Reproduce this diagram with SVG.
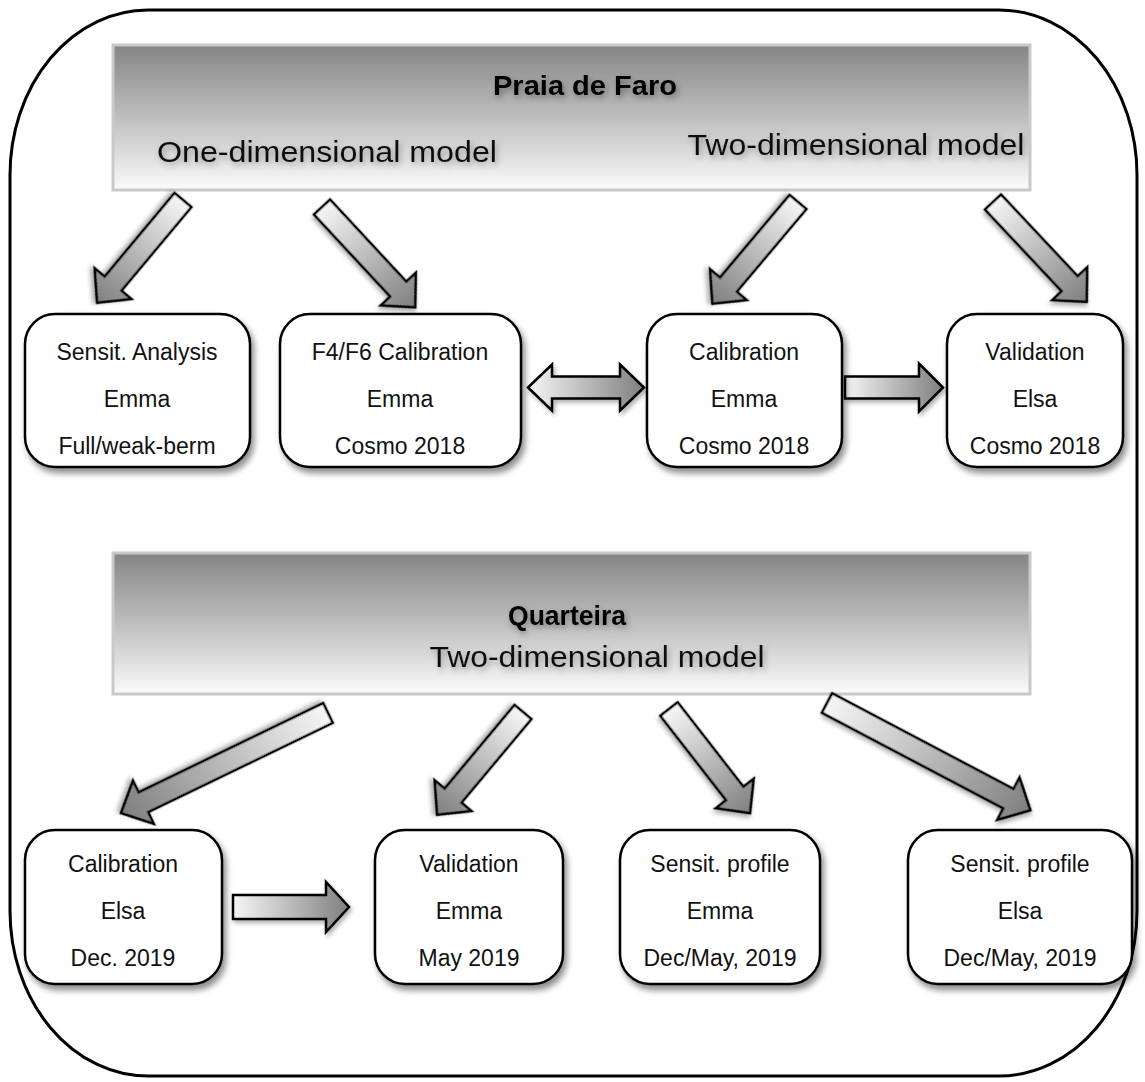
<svg xmlns="http://www.w3.org/2000/svg" width="1145" height="1082" viewBox="0 0 1145 1082">
<defs>
<linearGradient id="bannerGrad" x1="0" y1="0" x2="0" y2="1">
<stop offset="0" stop-color="#858585"/>
<stop offset="0.55" stop-color="#c4c4c4"/>
<stop offset="1" stop-color="#fbfbfb"/>
</linearGradient>
<linearGradient id="arrowGrad" x1="0" y1="0" x2="1" y2="0">
<stop offset="0" stop-color="#f6f6f6"/>
<stop offset="1" stop-color="#7f7f7f"/>
</linearGradient>
<filter id="shadow" x="-20%" y="-20%" width="150%" height="150%">
<feDropShadow dx="3" dy="5" stdDeviation="3" flood-color="#000" flood-opacity="0.45"/>
</filter>
<filter id="ashadow" x="-20%" y="-30%" width="150%" height="170%">
<feDropShadow dx="2" dy="3" stdDeviation="2" flood-color="#000" flood-opacity="0.3"/>
</filter>
<filter id="tshadow" x="-10%" y="-40%" width="130%" height="200%">
<feDropShadow dx="2" dy="3" stdDeviation="3" flood-color="#000" flood-opacity="0.35"/>
</filter>
</defs>
<style>
.frame{fill:#fff;stroke:#000;stroke-width:3}
.banner{fill:url(#bannerGrad);stroke:#c9c9c9;stroke-width:3}
.box{fill:#fff;stroke:#000;stroke-width:2.5;filter:url(#shadow)}
.arrow{fill:url(#arrowGrad);stroke:#000;stroke-width:2.5;stroke-linejoin:miter;filter:url(#ashadow)}
.t{font-family:"Liberation Sans",Arial,sans-serif;font-size:23px;fill:#111;text-anchor:middle}
.h{font-family:"Liberation Sans",Arial,sans-serif;font-size:28px;font-weight:bold;fill:#000;text-anchor:middle;filter:url(#tshadow)}
.s{font-family:"Liberation Sans",Arial,sans-serif;font-size:30px;fill:#111;text-anchor:middle;filter:url(#tshadow)}
</style>
<rect class="frame" x="10" y="10" width="1127" height="1066" rx="138" ry="165"/>

<g id="banner-faro">
<rect class="banner" x="113" y="45" width="917" height="145"/>
<text class="h" x="585" y="95" textLength="184" lengthAdjust="spacingAndGlyphs">Praia de Faro</text>
<text class="s" x="327" y="162" textLength="340" lengthAdjust="spacingAndGlyphs">One-dimensional model</text>
<text class="s" x="856" y="155" textLength="337" lengthAdjust="spacingAndGlyphs">Two-dimensional model</text>
</g>

<g id="banner-quarteira">
<rect class="banner" x="113" y="553" width="917" height="141"/>
<text class="h" x="567" y="625" textLength="118" lengthAdjust="spacingAndGlyphs">Quarteira</text>
<text class="s" x="597" y="667" textLength="335" lengthAdjust="spacingAndGlyphs">Two-dimensional model</text>
</g>

<g id="connectors">
<polygon class="arrow" transform="translate(183,200) rotate(129.9)" points="0,-11 109,-11 109,-24 134,0 109,24 109,11 0,11"/>
<polygon class="arrow" transform="translate(322,207) rotate(47.1)" points="0,-11 112,-11 112,-24 137,0 112,24 112,11 0,11"/>
<polygon class="arrow" transform="translate(798,202) rotate(130.1)" points="0,-11 108,-11 108,-24 133,0 108,24 108,11 0,11"/>
<polygon class="arrow" transform="translate(993,202) rotate(46.8)" points="0,-11 112,-11 112,-24 137,0 112,24 112,11 0,11"/>
<polygon class="arrow" transform="translate(528,387.5)" points="0,0 24,-23 24,-11 92,-11 92,-23 116,0 92,23 92,11 24,11 24,23"/>
<polygon class="arrow" transform="translate(845,387.5)" points="0,-11 74,-11 74,-24 98,0 74,24 74,11 0,11"/>
<polygon class="arrow" transform="translate(328,713) rotate(154.2)" points="0,-11 205,-11 205,-24 230,0 205,24 205,11 0,11"/>
<polygon class="arrow" transform="translate(523,712) rotate(129.9)" points="0,-11 109,-11 109,-24 134,0 109,24 109,11 0,11"/>
<polygon class="arrow" transform="translate(669,709) rotate(52.1)" points="0,-11 107,-11 107,-24 132,0 107,24 107,11 0,11"/>
<polygon class="arrow" transform="translate(827,703) rotate(27.8)" points="0,-11 205,-11 205,-24 230,0 205,24 205,11 0,11"/>
<polygon class="arrow" transform="translate(233,907)" points="0,-12 93,-12 93,-25 116,0 93,25 93,12 0,12"/>
</g>

<g id="node-sensit-analysis">
<rect class="box" x="25" y="314" width="225" height="153" rx="30"/>
<text class="t" x="137" y="360">Sensit. Analysis</text>
<text class="t" x="137" y="407">Emma</text>
<text class="t" x="137" y="454">Full/weak-berm</text>
</g>
<g id="node-f4f6-calibration">
<rect class="box" x="280" y="314" width="241" height="153" rx="30"/>
<text class="t" x="400" y="360">F4/F6 Calibration</text>
<text class="t" x="400" y="407">Emma</text>
<text class="t" x="400" y="454">Cosmo 2018</text>
</g>
<g id="node-calibration-1">
<rect class="box" x="647" y="314" width="195" height="153" rx="30"/>
<text class="t" x="744" y="360">Calibration</text>
<text class="t" x="744" y="407">Emma</text>
<text class="t" x="744" y="454">Cosmo 2018</text>
</g>
<g id="node-validation-1">
<rect class="box" x="947" y="314" width="176" height="153" rx="30"/>
<text class="t" x="1035" y="360">Validation</text>
<text class="t" x="1035" y="407">Elsa</text>
<text class="t" x="1035" y="454">Cosmo 2018</text>
</g>

<g id="node-calibration-2">
<rect class="box" x="25" y="830" width="197" height="154" rx="30"/>
<text class="t" x="123" y="872">Calibration</text>
<text class="t" x="123" y="919">Elsa</text>
<text class="t" x="123" y="966">Dec. 2019</text>
</g>
<g id="node-validation-2">
<rect class="box" x="375" y="830" width="188" height="154" rx="30"/>
<text class="t" x="469" y="872">Validation</text>
<text class="t" x="469" y="919">Emma</text>
<text class="t" x="469" y="966">May 2019</text>
</g>
<g id="node-sensit-profile-emma">
<rect class="box" x="620" y="830" width="200" height="154" rx="30"/>
<text class="t" x="720" y="872">Sensit. profile</text>
<text class="t" x="720" y="919">Emma</text>
<text class="t" x="720" y="966">Dec/May, 2019</text>
</g>
<g id="node-sensit-profile-elsa">
<rect class="box" x="908" y="830" width="224" height="154" rx="30"/>
<text class="t" x="1020" y="872">Sensit. profile</text>
<text class="t" x="1020" y="919">Elsa</text>
<text class="t" x="1020" y="966">Dec/May, 2019</text>
</g>
</svg>
